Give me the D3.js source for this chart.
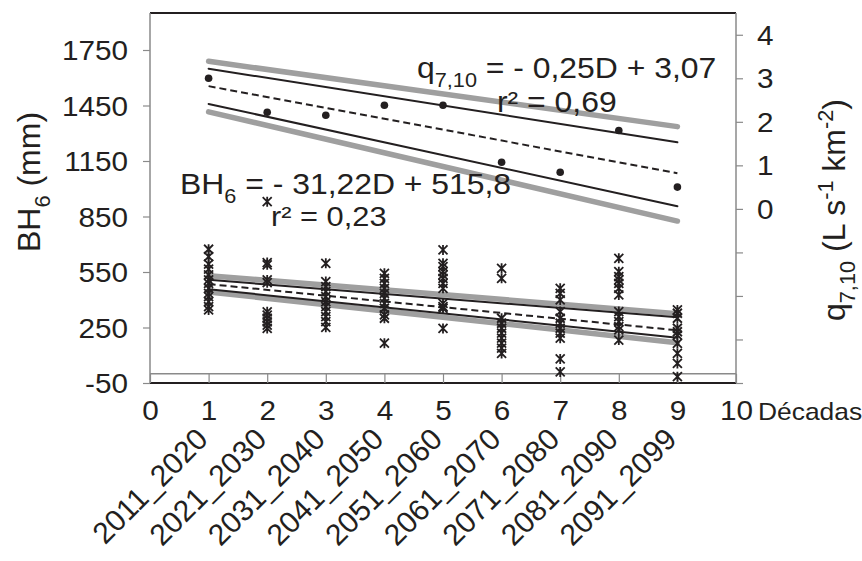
<!DOCTYPE html>
<html>
<head>
<meta charset="utf-8">
<script src="https://cdn.jsdelivr.net/npm/d3@7/dist/d3.min.js"></script>
<style>
  html, body { margin: 0; padding: 0; background: #fff; }
  svg { display: block; font-family: "Liberation Sans", Arial, sans-serif; }
  text { fill: #231f20; font-family: "Liberation Sans", Arial, sans-serif; }
</style>
</head>
<body>
<svg id="chart" width="862" height="561"></svg>
<script>
// Decades and their period names
const decades = [1, 2, 3, 4, 5, 6, 7, 8, 9];
const periods = ["2011_2020", "2021_2030", "2031_2040", "2041_2050", "2051_2060",
                 "2061_2070", "2071_2080", "2081_2090", "2091_2099"];

// q7,10 per decade (right axis, L s-1 km-2)
const q710 = [3.00, 2.22, 2.15, 2.38, 2.38, 1.07, 0.84, 1.80, 0.50];
// q7,10 fit: slope, intercept
const qFit = [-0.25, 3.07];
// band lines for q7,10, values at decade 1 and decade 9
const bandEnds = [1, 9];
const qInnerHi = [3.22, 1.53];
const qInnerLo = [2.41, 0.06];
const qOuterHi = [3.39, 1.89];
const qOuterLo = [2.23, -0.28];

// BH6 values per decade (left axis, mm)
const bh6 = [
  [673, 633, 593, 565, 534, 507, 489, 462, 435, 417, 390, 363, 345],
  [930, 601, 589, 507, 492, 335, 317, 300, 281, 263, 245],
  [597, 498, 471, 444, 417, 390, 363, 336, 309, 282, 251],
  [543, 516, 489, 462, 435, 408, 381, 354, 318, 300, 165],
  [669, 597, 579, 552, 534, 516, 489, 462, 381, 363, 354, 245],
  [570, 516, 300, 273, 246, 219, 192, 165, 138, 110],
  [462, 435, 399, 336, 300, 273, 246, 219, 192, 80, 10],
  [624, 552, 525, 507, 489, 462, 426, 336, 309, 282, 255, 237, 182],
  [345, 327, 300, 246, 227, 209, 164, 110, 56, -16]
];
// BH6 fit: slope, intercept
const bhFit = [-31.22, 515.8];
const bhInnerHi = [508, 305];
const bhInnerLo = [457, 195];
const bhOuterHi = [530, 325];
const bhOuterLo = [442, 168];

// axis ticks
const leftTicks = [-50, 250, 550, 850, 1150, 1450, 1750];
const rightTicks = [-4, -3, -2, -1, 0, 1, 2, 3, 4];
const xTicks = [0, 1, 2, 3, 4, 5, 6, 7, 8, 9, 10];

const FS = 27;
const SX = 1.1;       // lettering is set slightly wide
const INK = "#231f20";
const AXIS = "#8a8a8a";
const BAND = "#9f9f9f";

const svg = d3.select("#chart");
const L = 150, R = 736, T = 13, B = 383;

const x = d3.scaleLinear().domain([0, 10]).range([L, R]);
const yL = d3.scaleLinear().domain([-50, 1950]).range([B, T]);
const yR = d3.scaleLinear().domain([-4, 4.5]).range([B, T]);

// text with sub/superscript parts: [string, kind]
function label(parent, px, py, parts, opt = {}) {
  const size = opt.size || FS;
  const sx = opt.sx || SX;
  let tf = `translate(${px},${py})`;
  if (sx !== 1) tf += ` scale(${sx},1)`;
  if (opt.rotate) tf += ` rotate(${opt.rotate})`;
  const t = parent.append("text")
    .attr("transform", tf)
    .attr("text-anchor", opt.anchor || "start")
    .style("font-size", size + "px");
  let shift = 0;
  parts.forEach(([s, kind]) => {
    const ts = t.append("tspan").text(s);
    let target = 0;
    if (kind === "sub") { target = size * 0.3; ts.style("font-size", (size * 0.68) + "px"); }
    if (kind === "sup") { target = -size * 0.38; ts.style("font-size", (size * 0.68) + "px"); }
    if (target - shift !== 0) ts.attr("dy", target - shift);
    shift = target;
  });
  return t;
}

// frame: black top and bottom rules
svg.append("line").attr("x1", L).attr("x2", R).attr("y1", T).attr("y2", T)
  .attr("stroke", INK).attr("stroke-width", 2);
svg.append("line").attr("x1", L).attr("x2", R).attr("y1", B).attr("y2", B)
  .attr("stroke", INK).attr("stroke-width", 2);

// tick text: widen about its own anchor
function styleAxisText(g, dx, dy) {
  g.attr("font-family", null).attr("font-size", null);
  g.selectAll("text")
    .attr("x", null).attr("y", null).attr("dy", null)
    .attr("transform", `translate(${dx},${dy}) scale(${SX},1)`)
    .style("font-size", FS + "px").attr("fill", INK);
}

// left axis
const gL = svg.append("g").attr("transform", `translate(${L},0)`)
  .call(d3.axisLeft(yL).tickValues(leftTicks).tickSize(7).tickSizeOuter(0)
    .tickFormat(d => String(d)));
gL.select(".domain").attr("d", `M0,${T}V${B}`);
styleAxisText(gL, -22, 9.5);

// right axis, negative ticks left unlabelled
const gR = svg.append("g").attr("transform", `translate(${R},0)`)
  .call(d3.axisRight(yR).tickValues(rightTicks).tickSize(7).tickSizeOuter(0)
    .tickFormat(d => d >= 0 ? String(d) : ""));
gR.select(".domain").attr("d", `M0,${T}V${B}`);
styleAxisText(gR, 21, 9.5);

// horizontal axis at BH6 = 0, ticks reaching the bottom rule
const gX = svg.append("g").attr("transform", `translate(0,${yL(0)})`)
  .call(d3.axisBottom(x).tickValues(xTicks).tickSize(B - yL(0)).tickFormat("").tickSizeOuter(0));
gX.select(".domain").attr("d", `M${L},0H${R}`);
gX.attr("font-family", null);

// decade numbers below the frame
const gXl = svg.append("g").attr("transform", `translate(0,${B})`)
  .call(d3.axisBottom(x).tickValues(xTicks).tickSize(0).tickFormat(d => String(d)));
gXl.select(".domain").remove();
styleAxisText(gXl, 0, 37);

[gL, gR, gX].forEach(g => {
  g.selectAll(".domain").attr("stroke", AXIS).attr("stroke-width", 1.5);
  g.selectAll(".tick line").attr("stroke", AXIS).attr("stroke-width", 1.2);
});

label(svg, x(10) + 22, B + 37, [["Décadas", ""]], { size: 24 });

// period names, slanted
periods.forEach((p, i) => {
  label(svg, x(decades[i]) + 1, 441, [[p, ""]], { anchor: "end", rotate: -45, size: 30, sx: 1 });
});

// axis titles
label(svg, 40, 182, [["BH", ""], ["6", "sub"], [" (mm)", ""]], { anchor: "middle", rotate: -90, size: 32, sx: 1 });
label(svg, 845, 210, [["q", ""], ["7,10", "sub"], [" (L s", ""], ["-1", "sup"], [" km", ""], ["-2", "sup"], [")", ""]],
  { anchor: "middle", rotate: -90, size: 32, sx: 1 });

// lines
const lineL = d3.line().x(d => x(d[0])).y(d => yL(d[1]));
const lineR = d3.line().x(d => x(d[0])).y(d => yR(d[1]));
const pair = v => bandEnds.map((d, i) => [d, v[i]]);
const fitPts = f => bandEnds.map(d => [d, f[0] * d + f[1]]);

function drawLine(gen, pts, stroke, width, dash) {
  svg.append("path").attr("d", gen(pts)).attr("fill", "none")
    .attr("stroke", stroke).attr("stroke-width", width)
    .attr("stroke-dasharray", dash || null).attr("stroke-linecap", dash ? "butt" : "round");
}

// q7,10 bands and fit
drawLine(lineR, pair(qOuterHi), BAND, 5.5);
drawLine(lineR, pair(qOuterLo), BAND, 5.5);
drawLine(lineR, pair(qInnerHi), INK, 2);
drawLine(lineR, pair(qInnerLo), INK, 2);
drawLine(lineR, fitPts(qFit), INK, 2, "7,4");

// BH6 bands and fit
drawLine(lineL, pair(bhOuterHi), BAND, 5.5);
drawLine(lineL, pair(bhOuterLo), BAND, 5.5);
drawLine(lineL, pair(bhInnerHi), INK, 2);
drawLine(lineL, pair(bhInnerLo), INK, 2);
drawLine(lineL, fitPts(bhFit), INK, 2, "7,4");

// q7,10 dots
svg.append("g").selectAll("circle").data(q710).join("circle")
  .attr("cx", (d, i) => x(decades[i])).attr("cy", d => yR(d)).attr("r", 3.8).attr("fill", INK);

// BH6 star markers
const star = "M-4.5,-4.5L4.5,4.5M-4.5,4.5L4.5,-4.5M0,-5L0,5";
const bhPts = bh6.flatMap((vals, i) => vals.map(v => [decades[i], v]));
svg.append("g").selectAll("path").data(bhPts).join("path")
  .attr("transform", d => `translate(${x(d[0])},${yL(d[1])})`)
  .attr("d", star).attr("fill", "none").attr("stroke", INK).attr("stroke-width", 1.8);

// fit equations
label(svg, 417, 78, [["q", ""], ["7,10", "sub"], [" = - 0,25D + 3,07", ""]], { size: 29 });
label(svg, 497, 112, [["r² = 0,69", ""]], { size: 29 });
label(svg, 180, 194, [["BH", ""], ["6", "sub"], [" = - 31,22D + 515,8", ""]], { size: 29 });
label(svg, 271, 226, [["r² = 0,23", ""]], { size: 28 });
</script>
</body>
</html>
